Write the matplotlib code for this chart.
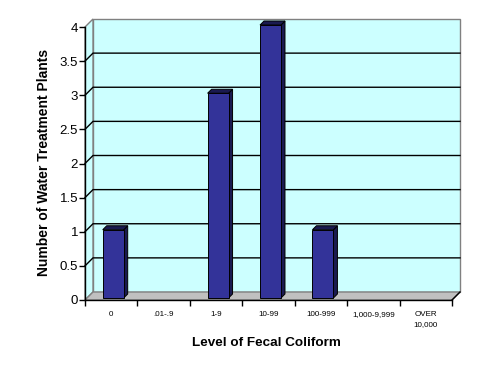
#!/usr/bin/env python
import matplotlib
matplotlib.use("Agg")
import matplotlib.pyplot as plt
from matplotlib.patches import Polygon, Rectangle

categories = ["0", ".01-.9", "1-9", "10-99", "100-999", "1,000-9,999", "OVER\n10,000"]
counts = [1, 0, 3, 4, 1, 0, 0]
yticks = [0, 0.5, 1, 1.5, 2, 2.5, 3, 3.5, 4]
ylabels = ["0", "0.5", "1", "1.5", "2", "2.5", "3", "3.5", "4"]

W, H = 491, 374
plt.rcParams['font.family'] = ['Liberation Sans', 'DejaVu Sans']

fig = plt.figure(figsize=(W / 100, H / 100), dpi=100)
fig.patch.set_facecolor("white")
# front plane of the pseudo 3d box, in pixels
left, right, bottom, top = 85, 452, 300, 27
ax = fig.add_axes([left / W, (H - bottom) / H, (right - left) / W, (bottom - top) / H])
n = len(categories)
ymax = 4
ax.set_xlim(0, n)
ax.set_ylim(0, ymax)
ax.patch.set_visible(False)

pxx = n / (right - left)      # data units per pixel, x
pxy = ymax / (bottom - top)   # data units per pixel, y
DX, DY = 8 * pxx, 8 * pxy     # depth of the box

wall = "#CCFFFF"
edge = "#808080"
# back wall
ax.add_patch(Rectangle((DX, DY), n, ymax, facecolor=wall, edgecolor=edge, lw=1, clip_on=False, zorder=1))
# side wall
ax.add_patch(Polygon([(0, 0), (DX, DY), (DX, ymax + DY), (0, ymax)], closed=True,
                     facecolor=wall, edgecolor=edge, lw=1, clip_on=False, zorder=1))
# floor
ax.add_patch(Polygon([(0, 0), (n, 0), (n + DX, DY), (DX, DY)], closed=True,
                     facecolor="#C0C0C0", edgecolor=edge, lw=1, clip_on=False, zorder=2))
ax.plot([n, n + DX], [0, DY], color="black", lw=1, clip_on=False, zorder=3)

# gridlines on walls
for v in yticks[1:-1]:
    ax.plot([0, DX, n + DX], [v, v + DY, v + DY], color="black", lw=1, clip_on=False, zorder=3)

# bars
front = "#333399"
dark = "#1A1A50"
bw = 0.4
ox, oy = 2 * pxx, 2 * pxy
bx, by = 4 * pxx, 4 * pxy
for i, v in enumerate(counts):
    if v == 0:
        continue
    x0 = i + 0.5 - bw / 2 + ox
    x1 = x0 + bw
    y0 = oy
    y1 = v + oy
    ax.add_patch(Polygon([(x1, y0), (x1 + bx, y0 + by), (x1 + bx, y1 + by), (x1, y1)], closed=True,
                         facecolor=dark, edgecolor="black", lw=0.7, clip_on=False, zorder=4))
    ax.add_patch(Polygon([(x0, y1), (x0 + bx, y1 + by), (x1 + bx, y1 + by), (x1, y1)], closed=True,
                         facecolor=dark, edgecolor="black", lw=0.7, clip_on=False, zorder=4))
    ax.add_patch(Rectangle((x0, y0), bw, v, facecolor=front, edgecolor="black", lw=0.7,
                           clip_on=False, zorder=5))

for s in ["top", "right"]:
    ax.spines[s].set_visible(False)
for s in ["left", "bottom"]:
    ax.spines[s].set_color("black")
    ax.spines[s].set_linewidth(1)
    ax.spines[s].set_zorder(6)

ax.set_yticks(yticks)
ax.set_yticklabels(ylabels, fontsize=9.5)
ax.tick_params(axis="y", direction="out", length=4, width=1, pad=1)

ax.set_xticks(range(n + 1))
ax.set_xticklabels([""] * (n + 1))
ax.set_xticks([i + 0.5 for i in range(n)], minor=True)
ax.set_xticklabels(categories, minor=True, fontsize=5.8, linespacing=1.6)
ax.tick_params(axis="x", which="major", direction="out", length=4, width=1)
ax.tick_params(axis="x", which="minor", length=0, pad=8)

fig.text(44 / W, 1 - 162 / H, "Number of Water Treatment Plants", rotation=90,
         ha="center", va="center", fontsize=10, fontweight="bold")
fig.text(266 / W, 1 - 343 / H, "Level of Fecal Coliform",
         ha="center", va="center", fontsize=9.7, fontweight="bold")

fig.savefig("out.png", dpi=100)
